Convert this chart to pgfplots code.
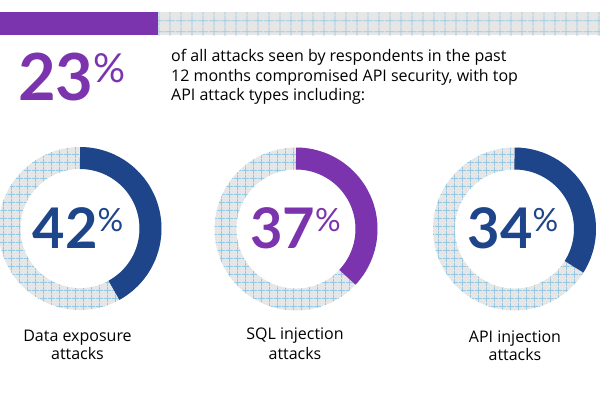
\documentclass[border=0pt]{standalone}
\usepackage{pgfplots}
\pgfplotsset{compat=1.18}
\usepackage{fontspec}
\setmainfont{Lato}
\newfontfamily\bodyfont{Open Sans}
\usetikzlibrary{patterns.meta}
\definecolor{vpurple}{HTML}{7C34AE}
\definecolor{vblue}{HTML}{1E448A}
\definecolor{ringgray}{HTML}{E6E6E6}
\definecolor{gridblue}{HTML}{93C9E4}
\tikzdeclarepattern{name=finegrid, type=uncolored,
  bottom left={(0pt,0pt)}, top right={(7.5pt,7.5pt)}, tile size={(7.5pt,7.5pt)},
  code={\draw[line width=0.75pt] (0pt,3.75pt)--(7.5pt,3.75pt) (3.75pt,0pt)--(3.75pt,7.5pt);}}
\tikzdeclarepattern{name=bargrid, type=uncolored,
  bottom left={(0pt,0pt)}, top right={(11pt,11pt)}, tile size={(11pt,11pt)},
  code={\draw[line width=0.8pt] (0pt,5.5pt)--(11pt,5.5pt) (5.5pt,0pt)--(5.5pt,11pt);}}
\newcommand{\bigpct}[3]{{\fontsize{#1}{#1}\selectfont\bfseries #3}\raisebox{#2}{\fontsize{32}{32}\selectfont\%}}
\begin{document}
\begin{tikzpicture}
\useasboundingbox (0,0) rectangle (600pt,400pt);
\begin{axis}[at={(0,0)}, anchor=south west, width=600pt, height=400pt, scale only axis, hide axis,
  xmin=0, xmax=600, ymin=0, ymax=400, y dir=reverse, clip=true]
% top bar
\fill[vpurple] (axis cs:0,12) rectangle (axis cs:158,35);
\fill[ringgray] (axis cs:158,12) rectangle (axis cs:600,35);
\fill[pattern=bargrid, pattern color=gridblue] (axis cs:158,12) rectangle (axis cs:600,35);
% headline
\node[anchor=base west, text=vpurple, inner sep=0pt] at (axis cs:18,100)
  {{\fontsize{65}{65}\selectfont\bfseries 23}\raisebox{18pt}{\fontsize{40}{40}\selectfont\%}};
\node[anchor=base west, inner sep=0pt] at (axis cs:171,61) {\bodyfont\fontsize{16}{16}\selectfont of all attacks seen by respondents in the past};
\node[anchor=base west, inner sep=0pt] at (axis cs:171,81) {\bodyfont\fontsize{16}{16}\selectfont 12 months compromised API security, with top};
\node[anchor=base west, inner sep=0pt] at (axis cs:171,100) {\bodyfont\fontsize{16}{16}\selectfont API attack types including:};
% donut rings (background)
\fill[ringgray] (axis cs:80,228.5) circle[radius=81.5pt];
\fill[pattern=finegrid, pattern color=gridblue] (axis cs:80,228.5) circle[radius=81.5pt];
\fill[white] (axis cs:80,228.5) circle[radius=59.5pt];
\fill[ringgray] (axis cs:296,229) circle[radius=81.5pt];
\fill[pattern=finegrid, pattern color=gridblue] (axis cs:296,229) circle[radius=81.5pt];
\fill[white] (axis cs:296,229) circle[radius=59.5pt];
\fill[ringgray] (axis cs:514.5,229) circle[radius=81.5pt];
\fill[pattern=finegrid, pattern color=gridblue] (axis cs:514.5,229) circle[radius=81.5pt];
\fill[white] (axis cs:514.5,229) circle[radius=59.5pt];
% data arcs: 42%, 37%, 34%
\addplot[vblue, line width=22pt, line join=round, domain=0:42, samples=90]
  ({80+70.5*sin(3.6*x)}, {228.5-70.5*cos(3.6*x)});
\addplot[vpurple, line width=22pt, line join=round, domain=0:37, samples=90]
  ({296+70.5*sin(3.6*x)}, {229-70.5*cos(3.6*x)});
\addplot[vblue, line width=22pt, line join=round, domain=0:34, samples=90]
  ({514.5+70.5*sin(3.6*x)}, {229-70.5*cos(3.6*x)});
% centre numbers
\node[anchor=base, text=vblue, inner sep=0pt] at (axis cs:78,248) {\bigpct{56}{17pt}{42}};
\node[anchor=base, text=vpurple, inner sep=0pt] at (axis cs:295.5,248) {\bigpct{56}{17pt}{37}};
\node[anchor=base, text=vblue, inner sep=0pt] at (axis cs:513,248) {\bigpct{56}{17pt}{34}};
% labels
\node[anchor=base, inner sep=0pt] at (axis cs:77.5,341) {\bodyfont\fontsize{16}{16}\selectfont Data exposure};
\node[anchor=base, inner sep=0pt] at (axis cs:77.5,359) {\bodyfont\fontsize{16}{16}\selectfont attacks};
\node[anchor=base, inner sep=0pt] at (axis cs:295,339) {\bodyfont\fontsize{16}{16}\selectfont SQL injection};
\node[anchor=base, inner sep=0pt] at (axis cs:295,359) {\bodyfont\fontsize{16}{16}\selectfont attacks};
\node[anchor=base, inner sep=0pt] at (axis cs:515,342) {\bodyfont\fontsize{16}{16}\selectfont API injection};
\node[anchor=base, inner sep=0pt] at (axis cs:515,360) {\bodyfont\fontsize{16}{16}\selectfont attacks};
\end{axis}
\end{tikzpicture}
\end{document}
